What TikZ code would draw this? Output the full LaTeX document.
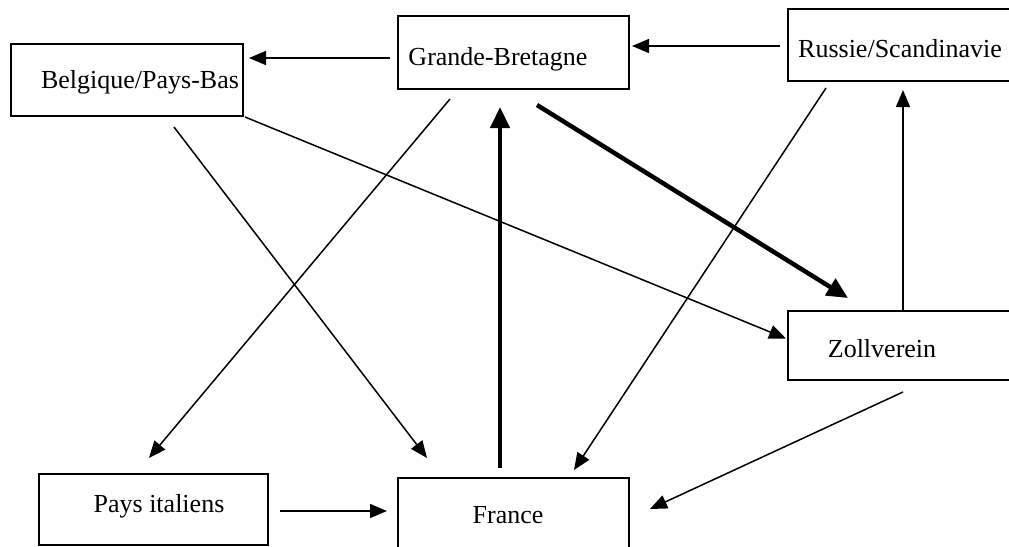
\documentclass[tikz,border=0pt]{standalone}
\usepackage{fontspec}
\setmainfont{Liberation Serif}
\usetikzlibrary{arrows.meta,calc}
\begin{document}
\begin{tikzpicture}[x=1pt,y=-1pt,
  box/.style={draw,line width=2pt,anchor=north west,inner sep=0pt},
  lbl/.style={anchor=base,inner sep=0pt,font=\fontsize{26}{29}\selectfont},
  thin/.style={line width=1.5pt,-{Triangle[length=17pt,width=14pt]}},
  thick/.style={line width=4.5pt,-{Triangle[length=21pt,width=19pt]}}]
\useasboundingbox (0,0) rectangle (1009,546);
\clip (0,0) rectangle (1009,546);
\node[box,minimum width=232pt,minimum height=72pt] (bel) at (10,43) {};
\node[box,minimum width=231pt,minimum height=73pt] (gb) at (397,15) {};
\node[box,minimum width=240pt,minimum height=72pt] (rus) at (787,8) {};
\node[box,minimum width=240pt,minimum height=69pt] (zoll) at (787,310) {};
\node[box,minimum width=229pt,minimum height=71pt] (ita) at (38,473) {};
\node[box,minimum width=231pt,minimum height=90pt] (fra) at (397,477) {};
\node[lbl] (belt) at (140,88) {Belgique/Pays-Bas};
\node[lbl] (gbt) at (498,65) {Grande-Bretagne};
\node[lbl] (rust) at (900,57) {Russie/Scandinavie};
\node[lbl] (zollt) at (882,357) {Zollverein};
\node[lbl] (itat) at (159,512) {Pays italiens};
\node[lbl] (frat) at (508,523) {France};
\draw[thin] ($(gb.west)+(-7,5.5)$) -- ($(bel.east)+(5,-22)$);
\draw[thin] ($(rus.west)+(-7,1)$) -- ($(gb.east)+(2,-6.5)$);
\draw[thin] ($(zoll.north west)+(116,0)$) -- ($(rus.south west)+(116,8)$);
\draw[thick] ($(gb.south east)+(-93,15)$) -- ($(zoll.north west)+(61,-12)$);
\draw[thick] ($(fra.north west)+(103,-9)$) -- ($(gb.south west)+(103,17)$);
\draw[thin] ($(bel.south east)+(1,0)$) -- ($(zoll.west)+(-1,-7)$);
\draw[thin] ($(bel.south east)+(-70,10)$) -- ($(fra.north west)+(30,-19)$);
\draw[thin] ($(gb.south west)+(53,9)$) -- ($(ita.north)+(-4.5,-15)$);
\draw[thin] ($(rus.south west)+(39,6)$) -- ($(fra.north east)+(-56,-7)$);
\draw[thin] ($(zoll.south west)+(116,11)$) -- ($(fra.east)+(20,-14)$);
\draw[thin] ($(ita.east)+(11,1.5)$) -- ($(fra.west)+(-10,-12)$);
\end{tikzpicture}
\end{document}
